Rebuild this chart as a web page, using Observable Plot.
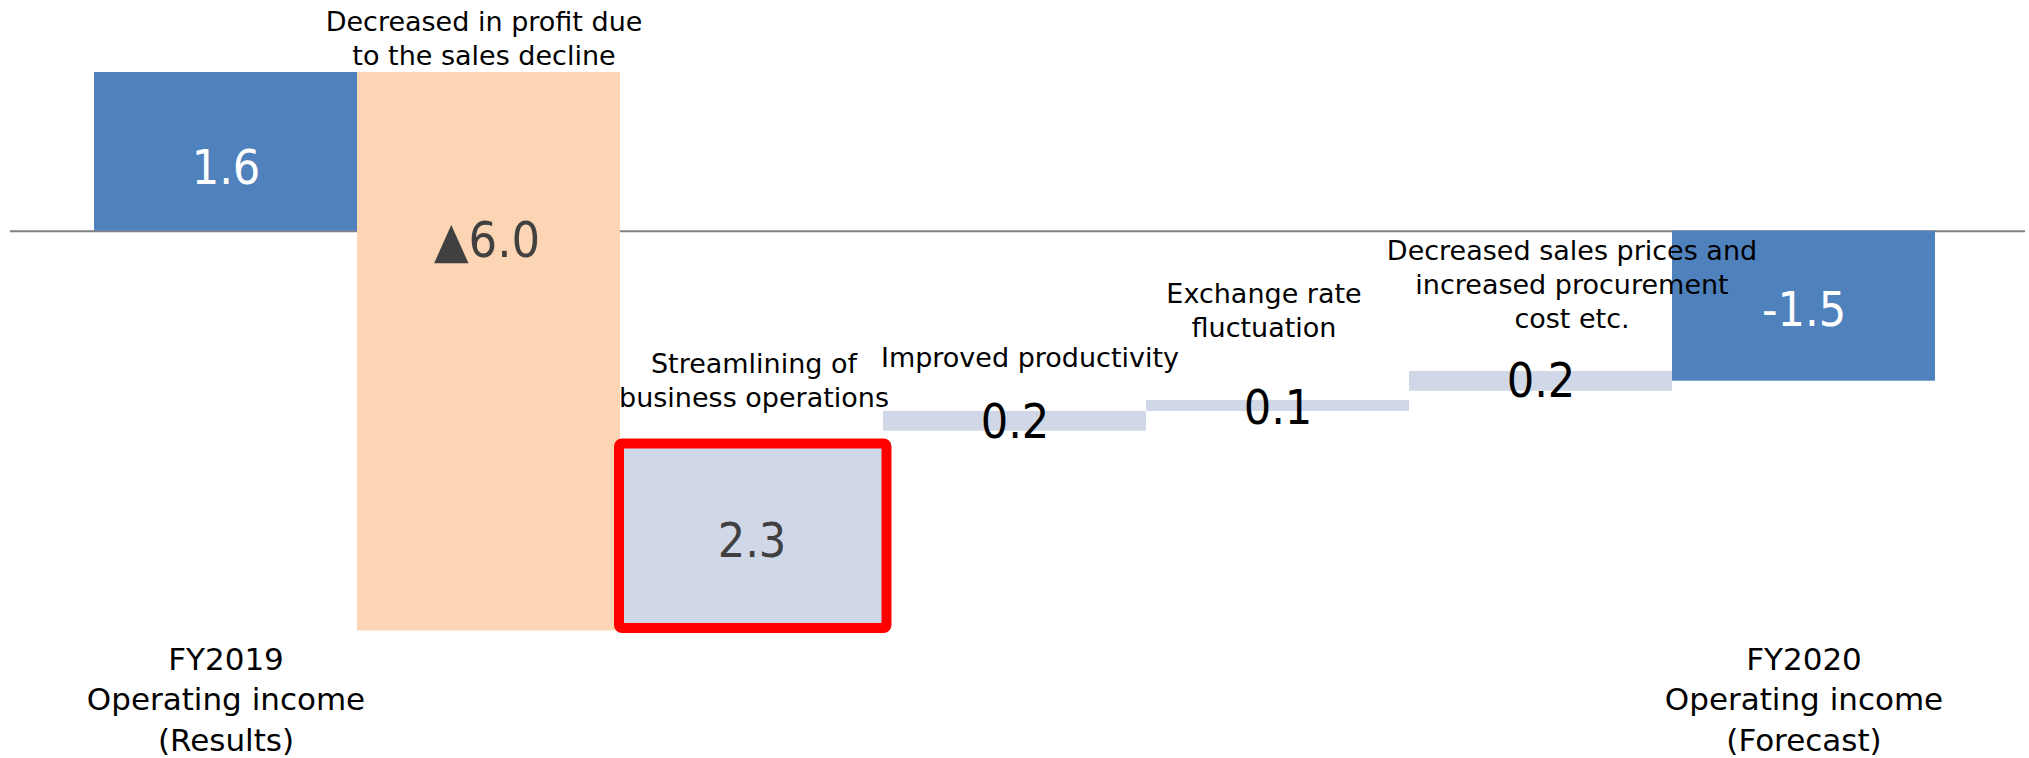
<!DOCTYPE html>
<html><head><meta charset="utf-8">
<script src="https://cdn.jsdelivr.net/npm/d3@7"></script>
<script src="https://cdn.jsdelivr.net/npm/@observablehq/plot@0.6"></script>
<style>
html,body{margin:0;padding:0;background:#fff;}
#chart svg{display:block;}
</style></head><body><div id="chart"></div>
<script>
// Steps of the waterfall (left to right)
const steps = ["FY2019", "Sales decline", "Streamlining", "Productivity", "Exchange rate", "Prices & procurement", "FY2020"];
const kinds = ["total", "decrease", "increase", "increase", "increase", "increase", "total"];
const valueLabels = ["1.6", "▲6.0", "2.3", "0.2", "0.1", "0.2", "-1.5"];
// bar extents as drawn in the picture (chart units, 0 = baseline)
const barTop = [1.6, 1.6, -2.145, -1.817, -1.706, -1.414, 0];
const barBottom = [0, -4.03, -4.005, -2.016, -1.817, -1.613, -1.512];
const notes = ["", "Decreased in profit due\nto the sales decline", "Streamlining of\nbusiness operations", "Improved productivity", "Exchange rate\nfluctuation", "Decreased sales prices and\nincreased procurement\ncost etc.", ""];
const axisLabels = ["FY2019\nOperating income\n(Results)", "", "", "", "", "", "FY2020\nOperating income\n(Forecast)"];

const rows = steps.map((s, i) => ({
  step: s, kind: kinds[i], label: valueLabels[i], note: notes[i],
  top: barTop[i], bottom: barBottom[i], mid: (barTop[i] + barBottom[i]) / 2
}));
const pick = i => [rows[i]];

const numFont = "'DejaVu Sans Condensed', 'DejaVu Sans', sans-serif";
const noteFont = "'DejaVu Sans', sans-serif";

const note = (i, dx, dy) => Plot.text(pick(i), {
  x: "step", y: "top", text: "note", lineAnchor: "bottom", dx, dy,
  fontSize: 27, lineHeight: 1.27, fill: "#000", fontFamily: noteFont
});
const num = (i, fill, dy) => Plot.text(pick(i), {
  x: "step", y: "mid", text: "label", dy, fill, fontSize: 48, fontFamily: numFont
});

const chart = Plot.plot({
  width: 2029, height: 758,
  marginLeft: 10, marginRight: 4, marginTop: 0, marginBottom: 118,
  x: {domain: steps, range: [91, 1937], padding: 0},
  y: {domain: [-4.126, 2.3256], axis: null},
  color: {domain: ["total", "decrease", "increase"], range: ["#4f81bd", "#fcd5b4", "#d0d8e8"]},
  style: {fontFamily: noteFont, background: "#fff"},
  marks: [
    Plot.ruleY([0], {stroke: "#808080", strokeWidth: 2}),
    Plot.barY(rows, {x: "step", y1: "bottom", y2: "top", fill: "kind", inset: 0}),
    Plot.rect(pick(2), {x: "step", y1: "bottom", y2: "top", fill: "none", stroke: "#ff0000", strokeWidth: 10, rx: 3, insetLeft: -1, insetRight: -3.5}),
    num(0, "#fff", 16.5),
    Plot.text(pick(1), {x: "step", y: () => 0, text: "label", dy: 10, dx: -2, fill: "#404040", fontSize: 50, fontFamily: numFont}),
    num(2, "#404040", 5),
    num(3, "#000", 1),
    num(4, "#000", 3),
    num(5, "#000", 0),
    num(6, "#fff", 4),
    note(1, -5, -7),
    note(2, 2, -37),
    note(3, 15, -44),
    note(4, -14, -63),
    note(5, 31, -43),
    Plot.axisX({
      ticks: [steps[0], steps[6]],
      tickFormat: d => axisLabels[steps.indexOf(d)],
      tickSize: 0, tickPadding: 1, label: null,
      fontSize: 31, lineHeight: 1.3, fill: "#000", fontFamily: noteFont
    })
  ]
});
document.getElementById("chart").appendChild(chart);
</script></body></html>
